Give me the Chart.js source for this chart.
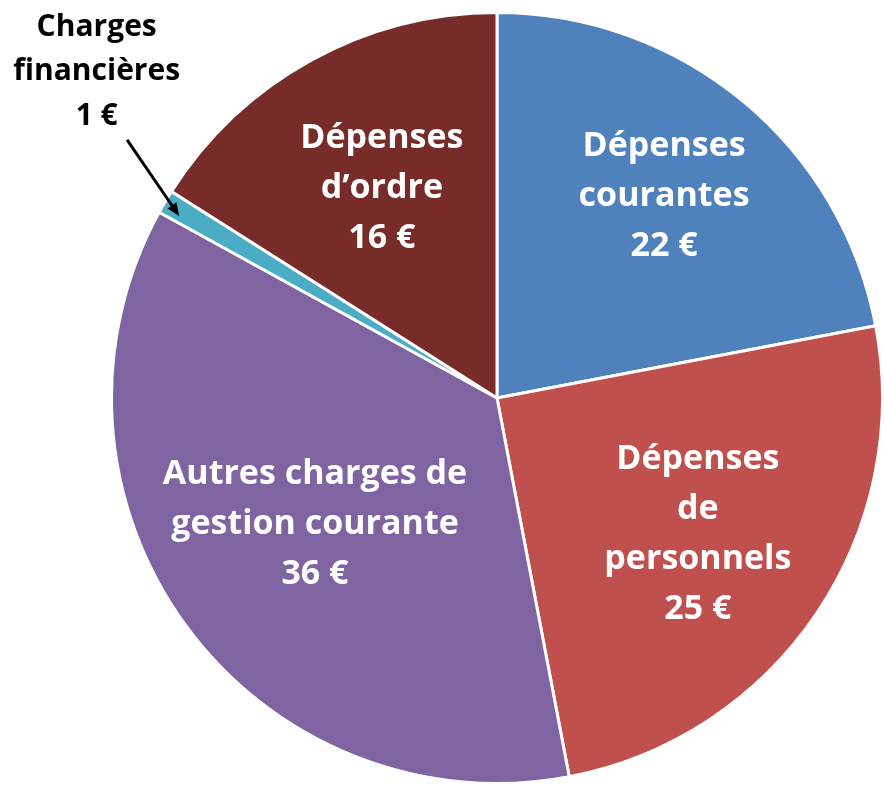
<!DOCTYPE html>
<html lang="fr">
<head>
<meta charset="utf-8">
<title>Répartition des dépenses</title>
<script src="https://cdn.jsdelivr.net/npm/chart.js@4/dist/chart.umd.min.js"></script>
<style>
  html, body { margin: 0; padding: 0; background: #fff; }
  #wrap { position: relative; width: 884px; height: 787px; }
</style>
</head>
<body>
<div id="wrap"><canvas id="pie"></canvas></div>
<script>
  // données du graphique
  const categories = [
    ["Dépenses", "courantes"],
    ["Dépenses", "de", "personnels"],
    ["Autres charges de", "gestion courante"],
    ["Charges", "financières"],
    ["Dépenses", "d’ordre"]
  ];
  const values = [22, 25, 36, 1, 16];
  const colors = ["#4F81BD", "#C0504D", "#8064A2", "#4BACC6", "#772C2A"];

  // placement des étiquettes : fraction du rayon, décalage d'angle (degrés), couleur
  const labelPlace = [
    { r: 0.68, shift: 0, color: "#fff" },
    { r: 0.63, shift: 0, color: "#fff" },
    { r: 0.575, shift: 1.2, color: "#fff" },
    { r: 1.34, shift: 8.6, color: "#000", size: 30, lh: 44.5,
      arrow: { from: [1.17, 4.3], to: [0.95, -0.8] } },
    { r: 0.62, shift: 0, color: "#fff" }
  ];

  const FAMILY = "'Open Sans', Lato, sans-serif";
  const SIZE = 34;
  const LINE_H = 50;

  function polar(el, frac, ang) {
    return {
      x: el.x + Math.cos(ang) * el.outerRadius * frac,
      y: el.y + Math.sin(ang) * el.outerRadius * frac
    };
  }

  const labelPlugin = {
    id: "sliceLabels",
    afterDatasetsDraw(chart) {
      const ctx = chart.ctx;
      const arcs = chart.getDatasetMeta(0).data;
      ctx.save();
      ctx.textAlign = "center";
      ctx.textBaseline = "middle";
      arcs.forEach((arc, i) => {
        const p = arc.getProps(["x", "y", "startAngle", "endAngle", "outerRadius"], true);
        const place = labelPlace[i];
        const lh = place.lh || LINE_H;
        ctx.font = "bold " + (place.size || SIZE) + "px " + FAMILY;
        const mid = (p.startAngle + p.endAngle) / 2;
        const ang = mid + place.shift * Math.PI / 180;
        const c = polar(p, place.r, ang);
        const lines = categories[i].concat([values[i] + " €"]);
        const top = c.y - (lines.length - 1) * lh / 2;
        ctx.fillStyle = place.color;
        lines.forEach((t, k) => ctx.fillText(t, c.x, top + k * lh));

        if (place.arrow) {
          const a = polar(p, place.arrow.from[0], mid + place.arrow.from[1] * Math.PI / 180);
          const b = polar(p, place.arrow.to[0], mid + place.arrow.to[1] * Math.PI / 180);
          const dir = Math.atan2(b.y - a.y, b.x - a.x);
          const head = 14;
          ctx.strokeStyle = "#000";
          ctx.lineWidth = 3;
          ctx.beginPath();
          ctx.moveTo(a.x, a.y);
          ctx.lineTo(b.x - Math.cos(dir) * head * 0.8, b.y - Math.sin(dir) * head * 0.8);
          ctx.stroke();
          ctx.fillStyle = "#000";
          ctx.beginPath();
          ctx.moveTo(b.x, b.y);
          ctx.lineTo(b.x - Math.cos(dir - 0.4) * head, b.y - Math.sin(dir - 0.4) * head);
          ctx.lineTo(b.x - Math.cos(dir + 0.4) * head, b.y - Math.sin(dir + 0.4) * head);
          ctx.closePath();
          ctx.fill();
        }
      });
      ctx.restore();
    }
  };

  new Chart(document.getElementById("pie"), {
    type: "pie",
    data: {
      labels: categories.map((c) => c.join(" ")),
      datasets: [{
        data: values,
        backgroundColor: colors,
        borderColor: "#fff",
        borderWidth: 3
      }]
    },
    options: {
      responsive: true,
      maintainAspectRatio: false,
      animation: false,
      layout: { padding: { left: 110, right: 0, top: 10, bottom: 1 } },
      plugins: {
        legend: { display: false },
        tooltip: { enabled: false }
      }
    },
    plugins: [labelPlugin]
  });
</script>
</body>
</html>
